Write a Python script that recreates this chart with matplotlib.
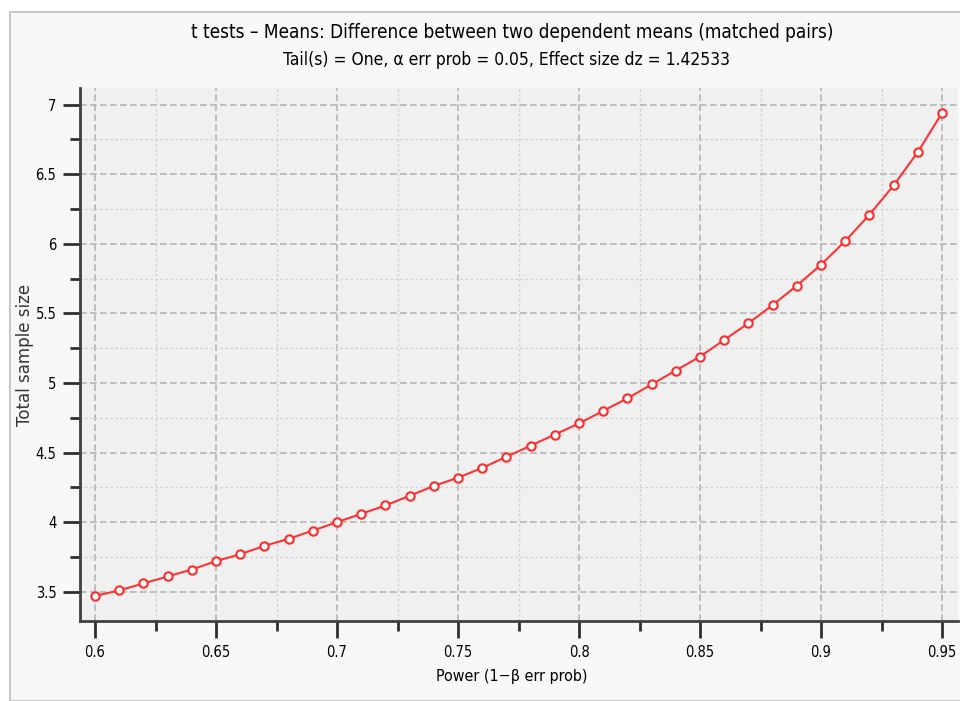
import matplotlib.pyplot as plt
from matplotlib.patches import Rectangle
from matplotlib.ticker import MultipleLocator
import numpy as np

power = [0.60, 0.61, 0.62, 0.63, 0.64, 0.65, 0.66, 0.67, 0.68, 0.69,
         0.70, 0.71, 0.72, 0.73, 0.74, 0.75, 0.76, 0.77, 0.78, 0.79,
         0.80, 0.81, 0.82, 0.83, 0.84, 0.85, 0.86, 0.87, 0.88, 0.89,
         0.90, 0.91, 0.92, 0.93, 0.94, 0.95]
sample_size = [3.47, 3.51, 3.56, 3.61, 3.66, 3.72, 3.77, 3.83, 3.88, 3.94,
               4.00, 4.06, 4.12, 4.19, 4.26, 4.32, 4.39, 4.47, 4.55, 4.63,
               4.71, 4.80, 4.89, 4.99, 5.09, 5.19, 5.31, 5.43, 5.56, 5.70,
               5.85, 6.02, 6.21, 6.42, 6.66, 6.94]
x_ticks = [0.6, 0.65, 0.7, 0.75, 0.8, 0.85, 0.9, 0.95]
x_tick_labels = ['0.6', '0.65', '0.7', '0.75', '0.8', '0.85', '0.9', '0.95']
y_ticks = [3.5, 4, 4.5, 5, 5.5, 6, 6.5, 7]
y_tick_labels = ['3.5', '4', '4.5', '5', '5.5', '6', '6.5', '7']

cond = dict(fontfamily='DejaVu Sans', fontstretch='condensed')

fig = plt.figure(figsize=(9.6, 7.01), dpi=100)
fig.patch.set_facecolor('white')
# panel behind the chart
fig.patches.append(Rectangle((10 / 960, 0), 1, 1 - 12 / 701, transform=fig.transFigure,
                             facecolor='#f8f8f8', edgecolor='#c8c8c8', linewidth=1.5,
                             zorder=-10))

ax = fig.add_axes([80 / 960, 80 / 701, 878 / 960, 533 / 701])
ax.set_facecolor('#f0f0f0')

ax.plot(power, sample_size, color='#ff3333', linewidth=1.5, marker='o', markersize=6,
        markerfacecolor='white', markeredgecolor='#ff2a2a', markeredgewidth=1.5, zorder=3)

ax.set_xlim(0.5938, 0.9566)
ax.set_ylim(3.29, 7.12)
ax.set_xticks(x_ticks)
ax.set_xticklabels(x_tick_labels, fontsize=10.5, **cond)
ax.set_yticks(y_ticks)
ax.set_yticklabels(y_tick_labels, fontsize=10.5, **cond)
ax.xaxis.set_minor_locator(MultipleLocator(0.025))
ax.yaxis.set_minor_locator(MultipleLocator(0.25))

ax.grid(which='major', color='#b4b4b4', linestyle=(0, (4, 2)), linewidth=1.2)
ax.grid(which='minor', color='#d0d0d0', linestyle=(0, (2, 2)), linewidth=0.9)

for side in ['top', 'right']:
    ax.spines[side].set_visible(False)
for side in ['left', 'bottom']:
    ax.spines[side].set_color('#404040')
    ax.spines[side].set_linewidth(2)
ax.tick_params(which='major', direction='out', length=12, width=2, color='#303030', pad=5)
ax.tick_params(which='minor', direction='out', length=7, width=2, color='#303030')

ax.set_xlabel('Power (1\u2212\u03b2 err prob)', fontsize=11.5, **cond)
ax.set_ylabel('Total sample size', fontsize=12, color='#333333')

ax.xaxis.set_label_coords((512 - 80) / 878, -(677 - 621) / 533)
ax.xaxis.label.set_va('center')
ax.yaxis.set_label_coords(-(80 - 25) / 878, 0.5)
ax.yaxis.label.set_va('center')

fig.text(512 / 960, 1 - 32 / 701, 't tests \u2013 Means: Difference between two dependent means (matched pairs)',
         ha='center', va='center', fontsize=13.6, **cond)
fig.text(507 / 960, 1 - 60 / 701, 'Tail(s) = One, \u03b1 err prob = 0.05, Effect size dz = 1.42533',
         ha='center', va='center', fontsize=12.5, **cond)

fig.savefig('out.png', dpi=100)
